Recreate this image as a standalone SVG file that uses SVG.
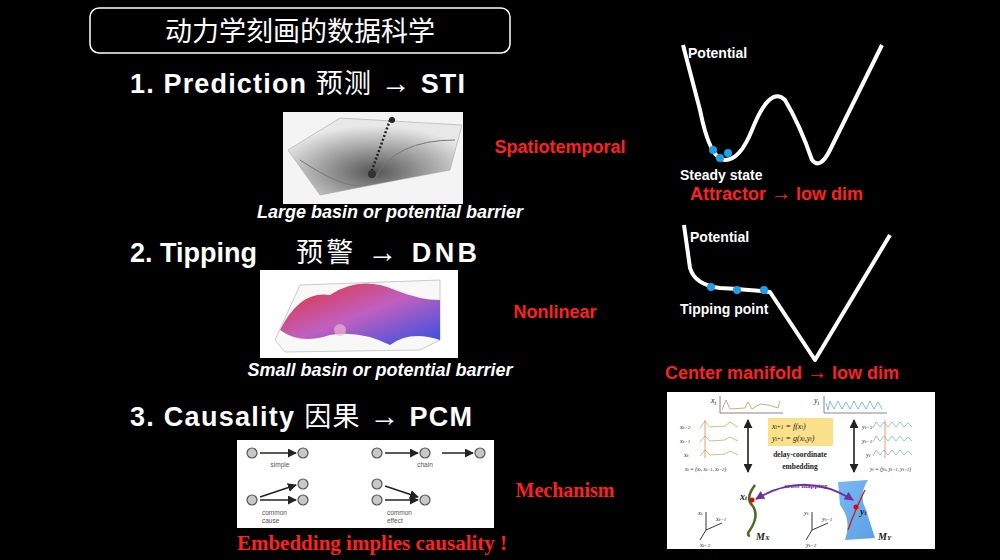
<svg xmlns="http://www.w3.org/2000/svg" width="1000" height="560" viewBox="0 0 1000 560">
<defs>
<marker id="ah" viewBox="0 0 10 10" refX="9" refY="5" markerWidth="6" markerHeight="6" orient="auto-start-reverse"><path d="M0,0L10,5L0,10z" fill="#222"/></marker>
<marker id="pa" viewBox="0 0 10 10" refX="9" refY="5" markerWidth="5" markerHeight="5" orient="auto-start-reverse"><path d="M0,0L10,5L0,10z" fill="#7030a0"/></marker>
<linearGradient id="surf" x1="0" y1="0" x2="1" y2="1"><stop offset="0" stop-color="#e03030"/><stop offset="0.5" stop-color="#c060c0"/><stop offset="1" stop-color="#3050e0"/></linearGradient>
<radialGradient id="grey" cx="0.5" cy="0.7" r="0.6"><stop offset="0" stop-color="#555"/><stop offset="1" stop-color="#e8e8e8"/></radialGradient>
<linearGradient id="my" x1="0" y1="0" x2="1" y2="1"><stop offset="0" stop-color="#7ab8f0"/><stop offset="1" stop-color="#5aa0e8"/></linearGradient>
</defs>
<style>
.w{fill:#fff;font-family:"Liberation Sans",Arial,"Noto Sans CJK SC",sans-serif;font-weight:bold}
.h{font-size:27px}
.cj{font-family:"Noto Sans CJK SC",sans-serif;font-weight:normal}
.cap{font-size:18px;font-style:italic}
.red{fill:#ff2020;font-family:"Liberation Sans",Arial,sans-serif;font-weight:bold;font-size:18px}
.rs{fill:#ff2020;font-family:"Liberation Serif","Times New Roman",serif;font-weight:bold}
.lbl{fill:#fff;font-family:"Liberation Sans",Arial,sans-serif;font-weight:bold;font-size:14px}
.pot{fill:none;stroke:#fff;stroke-width:4;stroke-linejoin:round}
.nd{fill:#c8c8c8;stroke:#555;stroke-width:1.2}
.ar{stroke:#222;stroke-width:1.5;marker-end:url(#ah)}
.sm{fill:#555;font-family:"Liberation Sans",Arial,sans-serif;font-size:6.5px}
.it{font-family:"Liberation Serif",serif;font-style:italic;fill:#222}
</style>
<rect width="1000" height="560" fill="#000"/>
<g id="title"><rect x="90" y="8" width="420" height="45" rx="9" fill="none" stroke="#fff" stroke-width="1.5"/><text x="300" y="41" text-anchor="middle" font-size="27" fill="#fff" font-family="'Noto Sans CJK SC',sans-serif">动力学刻画的数据科学</text></g>
<g id="s1">
<text class="w h" x="130" y="93" textLength="335" lengthAdjust="spacing">1. Prediction <tspan class="cj">预测</tspan> <tspan font-size="30">→</tspan> STI</text>
<rect x="283" y="112" width="180" height="92" fill="#f4f4f4"/>
<path d="M288,150 L340,118 L462,125 L450,170 L320,195 Z" fill="url(#grey)" stroke="#999" stroke-width="0.5"/>
<path d="M300,160 Q360,200 375,178 Q395,140 455,140" fill="none" stroke="#777"/>
<path d="M390,120 L372,170" stroke="#222" stroke-width="2.5" stroke-dasharray="2 2"/>
<circle cx="392" cy="120" r="3" fill="#222"/><circle cx="372" cy="174" r="4" fill="#333"/>
<text class="w cap" x="390" y="218" text-anchor="middle">Large basin or potential barrier</text>
<text class="red" x="560" y="153" text-anchor="middle">Spatiotemporal</text>
</g>
<g id="pot1">
<path class="pot" d="M683,45 L700,110 Q710,160 725,160 Q740,160 752,130 Q770,85 785,100 Q800,125 812,160 Q820,170 830,150 L882,45"/>
<circle cx="713" cy="150" r="4" fill="#1ea0e8"/><circle cx="720" cy="158" r="4" fill="#1ea0e8"/><circle cx="728" cy="153" r="4" fill="#1ea0e8"/>
<text class="lbl" x="688" y="58">Potential</text>
<text class="lbl" x="680" y="180">Steady state</text>
<text class="red" x="690" y="200">Attractor <tspan font-size="20">→</tspan> low dim</text>
</g>
<g id="s2">
<text class="w h" x="130" y="262">2. Tipping</text>
<text class="w h" x="296" y="262" textLength="181" lengthAdjust="spacing"><tspan class="cj">预警</tspan> <tspan font-size="30">→</tspan> DNB</text>
<rect x="260" y="270" width="198" height="88" fill="#fff"/>
<path d="M275,340 L300,285 L440,280 L440,340 L420,350 L285,352 Z" fill="#f8f8f8" stroke="#aaa" stroke-width="0.6"/>
<path d="M280,330 Q300,290 330,295 Q360,275 395,290 Q420,300 440,300 L440,340 Q410,330 390,345 Q360,330 330,335 Q300,345 280,330 Z" fill="url(#surf)"/>
<circle cx="340" cy="330" r="6" fill="#f0b0d0" opacity="0.7"/>
<text class="w cap" x="380" y="376" text-anchor="middle">Small basin or potential barrier</text>
<text class="red" x="555" y="318" text-anchor="middle">Nonlinear</text>
</g>
<g id="pot2">
<path class="pot" d="M684,225 L690,268 Q695,285 720,288 Q755,290 770,292 L815,360 L890,235"/>
<circle cx="711" cy="287" r="4" fill="#1ea0e8"/><circle cx="737" cy="290" r="4" fill="#1ea0e8"/><circle cx="764" cy="290" r="4" fill="#1ea0e8"/>
<text class="lbl" x="690" y="242">Potential</text>
<text class="lbl" x="680" y="314">Tipping point</text>
<text class="red" x="665" y="379">Center manifold <tspan font-size="20">→</tspan> low dim</text>
</g>
<g id="s3">
<text class="w h" x="130" y="426" textLength="342" lengthAdjust="spacing">3. Causality <tspan class="cj">因果</tspan> <tspan font-size="30">→</tspan> PCM</text>
<text class="rs" x="565" y="497" font-size="20" text-anchor="middle">Mechanism</text>
<text class="rs" x="372" y="550" font-size="21" text-anchor="middle">Embedding implies causality !</text>
</g>
<g id="causal">
<rect x="237" y="440" width="257" height="88" fill="#fff"/>
<g id="connectors">
<line class="ar" x1="260" y1="453" x2="296" y2="453"/>
<line class="ar" x1="385" y1="453" x2="418" y2="453"/>
<line class="ar" x1="442" y1="453" x2="473" y2="453"/>
<line class="ar" x1="260" y1="497" x2="296" y2="485"/>
<line class="ar" x1="260" y1="500" x2="296" y2="500"/>
<line class="ar" x1="385" y1="486" x2="418" y2="497"/>
<line class="ar" x1="385" y1="500" x2="418" y2="500"/>
</g>
<circle class="nd" cx="252" cy="453" r="5"/><circle class="nd" cx="303" cy="453" r="5"/>
<circle class="nd" cx="377" cy="453" r="5"/><circle class="nd" cx="425" cy="453" r="5"/><circle class="nd" cx="480" cy="453" r="5"/>
<circle class="nd" cx="252" cy="500" r="5"/><circle class="nd" cx="303" cy="484" r="5"/><circle class="nd" cx="303" cy="500" r="5"/>
<circle class="nd" cx="377" cy="484" r="5"/><circle class="nd" cx="377" cy="500" r="5"/><circle class="nd" cx="425" cy="500" r="5"/>
<text class="sm" x="280" y="467" text-anchor="middle">simple</text>
<text class="sm" x="425" y="467" text-anchor="middle">chain</text>
<text class="sm" x="262" y="515">common</text><text class="sm" x="262" y="523">cause</text>
<text class="sm" x="387" y="515">common</text><text class="sm" x="387" y="523">effect</text>
</g>
<g id="pcm">
<rect x="667" y="392" width="268" height="157" fill="#fff"/>
<g font-size="8" class="it">
<text x="711" y="403">x<tspan font-size="6" dy="2">t</tspan></text>
<text x="814" y="403">y<tspan font-size="6" dy="2">t</tspan></text>
</g>
<path d="M720,396 V413 H783" fill="none" stroke="#333" stroke-width="0.6"/>
<polyline points="722,410 726,400 730,409 745,408 748,402 752,409 760,404 768,405 778,408 780,401" fill="none" stroke="#9a9a40" stroke-width="0.7"/>
<path d="M824,396 V413 H887" fill="none" stroke="#333" stroke-width="0.6"/>
<polyline points="826,403 828,410 830,401 834,409 838,401 842,409 846,402 850,409 854,401 858,409 862,402 866,409 870,401 874,409 878,402 882,409" fill="none" stroke="#40a8c8" stroke-width="0.7"/>
<g fill="none" stroke="#9a9a40" stroke-width="0.6">
<polyline points="700,428 705,421 710,427 725,426 730,422 738,427"/>
<polyline points="700,442 705,436 710,441 725,440 730,437 738,441"/>
<polyline points="700,456 705,450 710,455 725,454 730,451 738,455"/>
</g>
<line x1="705" y1="420" x2="705" y2="458" stroke="#f08040" stroke-width="0.8"/>
<g fill="none" stroke="#40a8c8" stroke-width="0.6">
<polyline points="873,428 876,422 880,427 884,422 888,427 892,422 896,427 900,422 904,427 908,423 912,427"/>
<polyline points="873,442 876,436 880,441 884,436 888,441 892,436 896,441 900,436 904,441 908,437 912,441"/>
<polyline points="873,456 876,450 880,455 884,450 888,455 892,450 896,455 900,450 904,455 908,451 912,455"/>
</g>
<line x1="885" y1="420" x2="885" y2="458" stroke="#f08040" stroke-width="0.8"/>
<g class="it" font-size="6.5">
<text x="680" y="429">x<tspan font-size="5">t−2</tspan></text><text x="680" y="443">x<tspan font-size="5">t−1</tspan></text><text x="684" y="457">x<tspan font-size="5">t</tspan></text>
<text x="685" y="471" font-size="5.5">x<tspan font-size="4.5">t</tspan> = (x<tspan font-size="4.5">t</tspan>, x<tspan font-size="4.5">t−1</tspan>, x<tspan font-size="4.5">t−2</tspan>)</text>
<text x="862" y="429">y<tspan font-size="5">t−2</tspan></text><text x="862" y="443">y<tspan font-size="5">t−1</tspan></text><text x="866" y="457">y<tspan font-size="5">t</tspan></text>
<text x="870" y="471" font-size="5.5">y<tspan font-size="4.5">t</tspan> = (y<tspan font-size="4.5">t</tspan>, y<tspan font-size="4.5">t−1</tspan>, y<tspan font-size="4.5">t−2</tspan>)</text>
</g>
<line x1="748" y1="420" x2="748" y2="472" stroke="#111" stroke-width="1.5" marker-start="url(#ah)" marker-end="url(#ah)"/>
<line x1="854" y1="420" x2="854" y2="472" stroke="#111" stroke-width="1.5" marker-start="url(#ah)" marker-end="url(#ah)"/>
<rect x="768" y="418" width="65" height="28" fill="#fbe08a"/>
<text class="it" x="772" y="429" font-size="8">x<tspan font-size="5.5">t+1</tspan> = f(x<tspan font-size="5.5">t</tspan>)</text>
<text class="it" x="772" y="441" font-size="8">y<tspan font-size="5.5">t+1</tspan> = g(x<tspan font-size="5.5">t</tspan>,y<tspan font-size="5.5">t</tspan>)</text>
<text x="800" y="457" font-size="7.5" font-weight="bold" text-anchor="middle" font-family="'Liberation Serif',serif" fill="#222">delay-coordinate</text>
<text x="800" y="469" font-size="7.5" font-weight="bold" text-anchor="middle" font-family="'Liberation Serif',serif" fill="#222">embedding</text>
<path d="M755,485 Q745,498 752,505 Q760,515 750,530 Q746,535 750,536" fill="none" stroke="#4a6a20" stroke-width="2.5"/>
<circle cx="752" cy="500" r="2.5" fill="#e00"/>
<text class="it" x="740" y="500" font-size="10" font-weight="bold">x<tspan font-size="7">t</tspan></text>
<text class="it" x="756" y="540" font-size="10" font-weight="bold">M<tspan font-size="7">X</tspan></text>
<path d="M838,482 L868,480 Q858,495 866,510 L875,538 L845,540 Q852,520 840,505 Z" fill="url(#my)"/>
<path d="M865,490 Q855,510 848,530" fill="none" stroke="#c02020" stroke-width="1.3"/>
<circle cx="856" cy="507" r="2.5" fill="#e00"/>
<text class="it" x="860" y="515" font-size="10" font-weight="bold">y<tspan font-size="7">t</tspan></text>
<text class="it" x="878" y="540" font-size="10" font-weight="bold">M<tspan font-size="7">Y</tspan></text>
<path d="M756,499 Q805,470 853,500" fill="none" stroke="#7030a0" stroke-width="1.8" marker-start="url(#pa)" marker-end="url(#pa)"/>
<text x="806" y="488" font-size="7" font-weight="bold" text-anchor="middle" font-family="'Liberation Serif',serif" fill="#7030a0">cross mapping</text>
<g stroke="#222" stroke-width="0.9" fill="none">
<path d="M706,530 V512 M706,530 L722,523 M706,530 L700,540"/>
<path d="M812,530 V512 M812,530 L828,523 M812,530 L806,540"/>
</g>
<g class="it" font-size="6.5">
<text x="698" y="515">x<tspan font-size="5">t</tspan></text><text x="716" y="521">x<tspan font-size="5">t−1</tspan></text><text x="700" y="547">x<tspan font-size="5">t−2</tspan></text>
<text x="804" y="515">y<tspan font-size="5">t</tspan></text><text x="822" y="521">y<tspan font-size="5">t−1</tspan></text><text x="806" y="547">y<tspan font-size="5">t−2</tspan></text>
</g>
</g>
</svg>
